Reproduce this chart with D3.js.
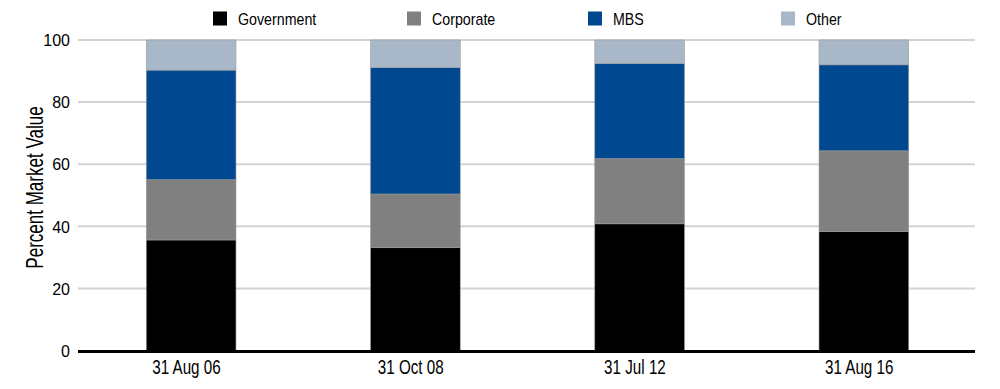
<!DOCTYPE html>
<html>
<head>
<meta charset="utf-8">
<script src="https://cdn.jsdelivr.net/npm/d3@7"></script>
<style>
  body { margin: 0; background: #fff; }
  svg text { font-family: "Liberation Sans", Arial, sans-serif; fill: #000; }
</style>
</head>
<body>
<div class="chart"></div>
<script>
// data
var dates = ['31 Aug 06', '31 Oct 08', '31 Jul 12', '31 Aug 16'];
var series = ['Government', 'Corporate', 'MBS', 'Other'];
var government = [35.6, 33.1, 40.8, 38.3];
var corporate = [19.4, 17.3, 21.0, 26.0];
var mbs = [35.3, 40.7, 30.6, 27.7];
var other = [9.7, 8.9, 7.6, 8.0];
var yTicks = [0, 20, 40, 60, 80, 100];

var colors = ['#000000', '#808080', '#004990', '#a9b8c8'];

var width = 1000, height = 389;

var svg = d3.select('.chart')
  .append('svg')
  .attr('width', width)
  .attr('height', height);

var rows = dates.map((d, i) => ({
  date: d,
  Government: government[i],
  Corporate: corporate[i],
  MBS: mbs[i],
  Other: other[i]
}));

var stacked = d3.stack().keys(series)(rows);

var xScale = d3.scaleBand()
  .domain(dates)
  .range([79, 976])
  .paddingInner(0.6)
  .paddingOuter(0.3);

var yScale = d3.scaleLinear()
  .domain([0, 100])
  .range([350.5, 40]);

// gridlines
svg.append('g')
  .selectAll('line')
  .data(yTicks.filter(t => t > 0))
  .enter()
  .append('line')
  .attr('x1', 78)
  .attr('x2', 975)
  .attr('y1', d => yScale(d))
  .attr('y2', d => yScale(d))
  .attr('stroke', '#d3d3d3')
  .attr('stroke-width', 2);

// bars
svg.append('g')
  .selectAll('g')
  .data(stacked)
  .enter()
  .append('g')
  .attr('fill', (d, i) => colors[i])
  .selectAll('rect')
  .data(d => d)
  .enter()
  .append('rect')
  .attr('x', d => xScale(d.data.date))
  .attr('width', xScale.bandwidth())
  .attr('y', d => yScale(d[1]))
  .attr('height', d => yScale(d[0]) - yScale(d[1]))
  .attr('stroke', '#9a9a9a')
  .attr('stroke-width', 0.6);

// y axis
var yAxis = d3.axisLeft(yScale)
  .tickValues(yTicks)
  .tickSize(0)
  .tickPadding(8);

svg.append('g')
  .attr('id', 'y-axis')
  .attr('transform', 'translate(78,0)')
  .call(yAxis)
  .call(g => g.select('.domain').remove())
  .selectAll('text')
  .attr('dy', '0.36em')
  .style('font-size', '16px')
  .style('font-family', '"Liberation Sans", Arial, sans-serif');

// x axis
var xAxis = d3.axisBottom(xScale)
  .tickSize(0);

svg.append('g')
  .attr('id', 'x-axis')
  .attr('transform', 'translate(0,351.5)')
  .call(xAxis)
  .call(g => g.select('.domain').remove())
  .selectAll('text')
  .attr('transform', 'scale(0.78,1)')
  .attr('x', -6)
  .attr('y', 22.5)
  .attr('dy', 0)
  .style('font-size', '19.5px')
  .style('font-family', '"Liberation Sans", Arial, sans-serif');

svg.append('line')
  .attr('x1', 78)
  .attr('x2', 975)
  .attr('y1', 351.5)
  .attr('y2', 351.5)
  .attr('stroke', '#000')
  .attr('stroke-width', 3);

// y title
svg.append('text')
  .attr('transform', 'translate(43,187.5) rotate(-90) scale(0.74,1)')
  .attr('text-anchor', 'middle')
  .style('font-size', '23px')
  .text('Percent Market Value');

// legend
var legendX = [213, 407, 588, 781];
var legend = svg.append('g')
  .selectAll('g')
  .data(series)
  .enter()
  .append('g')
  .attr('transform', (d, i) => 'translate(' + legendX[i] + ',11.5)');

legend.append('rect')
  .attr('width', 14)
  .attr('height', 14)
  .attr('fill', (d, i) => colors[i]);

legend.append('text')
  .attr('transform', 'translate(25,13.5) scale(0.89,1)')
  .style('font-size', '16px')
  .text(d => d);
</script>
</body>
</html>
